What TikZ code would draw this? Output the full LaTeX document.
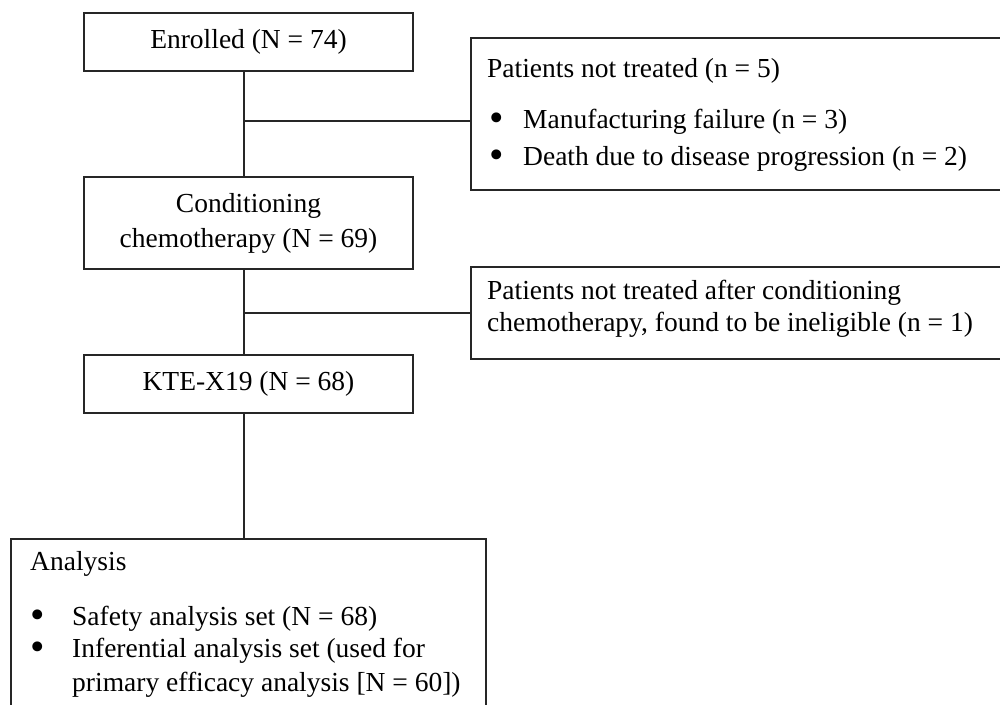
\documentclass[tikz,border=0pt]{standalone}
\usepackage{fontspec}
\setmainfont{Liberation Serif}
\usetikzlibrary{positioning}

\newcommand{\bodysize}{\fontsize{27.5}{35}\selectfont}
\newcommand{\itembul}[1]{\makebox[#1][l]{\smash{\raisebox{-0.12em}{\scalebox{1.5}{\textbullet}}}}}

\tikzstyle{block} = [rectangle, draw=black!85, line width=2pt, inner sep=0pt, text centered, align=center, font=\bodysize]
\tikzstyle{sidebox} = [rectangle, draw=black!85, line width=2pt, minimum width=540pt, anchor=north west]
\tikzstyle{txt} = [anchor=base west, inner sep=0pt, font=\bodysize]
\tikzstyle{line} = [draw=black!85, line width=2pt]

\begin{document}
\begin{tikzpicture}[x=1pt, y=-1pt]
		\useasboundingbox (0,0) rectangle (1000,704);
		\clip (0,0) rectangle (1000,704);
		\coordinate (spine) at (244,0);

		\node[block, minimum width=329pt, minimum height=58pt] (enr) at (248.5,42) {Enrolled (N = 74)};
		\node[block, minimum width=329pt, minimum height=92pt, below=104pt of enr] (cc) {Conditioning\\chemotherapy (N = 69)};
		\node[block, minimum width=329pt, minimum height=58pt, below=84pt of cc] (kte) {KTE-X19 (N = 68)};
		\node[block, minimum width=475pt, minimum height=220pt, below=124pt of kte] (ana) {};

		\node[sidebox, minimum height=152pt] (nt1) at (470,37) {};
		\node[sidebox, minimum height=92pt] (nt2) at (470,266) {};

		% excluded before conditioning
		\node[txt] (nt1h) at (487,77) {Patients not treated (n = 5)};
		\node[txt] (nt1a) at (489,128) {\itembul{34pt}Manufacturing failure (n = 3)};
		\node[txt] (nt1b) at (489,165) {\itembul{34pt}Death due to disease progression (n = 2)};

		% excluded after conditioning
		\node[txt] (nt2a) at (487,299) {Patients not treated after conditioning};
		\node[txt] (nt2b) at (487,331) {chemotherapy, found to be ineligible (n = 1)};

		% analysis sets
		\node[txt] (anah) at (30,570) {Analysis};
		\node[txt] (anaa) at (30,625) {\itembul{42pt}Safety analysis set (N = 68)};
		\node[txt] (anab) at (30,657) {\itembul{42pt}Inferential analysis set (used for};
		\node[txt] (anac) at (72,691) {primary efficacy analysis [N = 60])};

		\coordinate (j1) at (244,121);
		\path[line] (enr.south -| spine) -- (cc.north -| spine);
		\path[line] (j1) -- (j1 -| nt1.west);
		\path[line] (cc.south -| spine) -- (kte.north -| spine);
		\path[line] (spine |- nt2.west) -- (nt2.west);
		\path[line] (kte.south -| spine) -- (ana.north -| spine);
\end{tikzpicture}
\end{document}
